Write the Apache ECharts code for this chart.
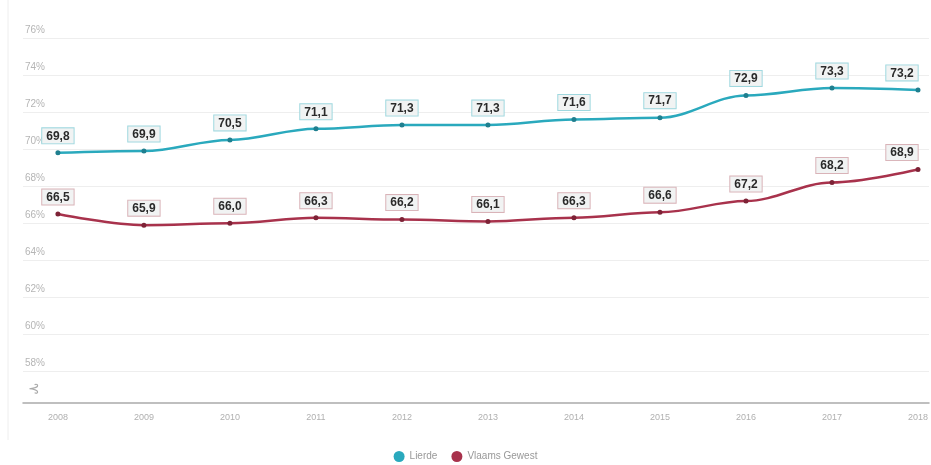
<!DOCTYPE html>
<html>
<head>
<meta charset="utf-8">
<script src="https://cdn.jsdelivr.net/npm/echarts@6/dist/echarts.min.js"></script>
<style>html,body{margin:0;padding:0;background:#fff;}#c{width:931px;height:465px;}</style>
</head>
<body>
<div id="c"></div>
<script>
var years = [2008, 2009, 2010, 2011, 2012, 2013, 2014, 2015, 2016, 2017, 2018];
var lierde = [69.8, 69.9, 70.5, 71.1, 71.3, 71.3, 71.6, 71.7, 72.9, 73.3, 73.2];
var vlaams = [66.5, 65.9, 66.0, 66.3, 66.2, 66.1, 66.3, 66.6, 67.2, 68.2, 68.9];
var yTicks = [58, 60, 62, 64, 66, 68, 70, 72, 74, 76];
var seriesNames = ['Lierde', 'Vlaams Gewest'];
var colors = ['#2aa9bd', '#a8324c'];

function pairs(vals) {
  return years.map(function (y, i) {
    var item = { value: [y, vals[i]] };
    if (i === years.length - 1) item.label = { offset: [-16, 0] };
    return item;
  });
}
function fmt(p) { return p.value[1].toFixed(1).replace('.', ','); }

function lbl(border) {
  return { show: true, position: 'top', distance: 7, formatter: fmt,
    color: '#2a2a2a', fontWeight: 'bold', fontSize: 12, fontFamily: 'Arial',
    backgroundColor: '#f1f3f3', borderColor: border, borderWidth: 1,
    padding: [2, 4, 1, 4] };
}

var chart = echarts.init(document.getElementById('c'));
chart.setOption({
  animation: false,
  grid: { left: 23, right: 0, top: 38, bottom: 62 },
  legend: {
    bottom: -2, left: 'center', itemWidth: 11, itemHeight: 11, itemGap: 14,
    icon: 'circle',
    textStyle: { color: '#999', fontSize: 10, fontFamily: 'Arial' },
    data: [
      { name: seriesNames[0], itemStyle: { color: colors[0] } },
      { name: seriesNames[1], itemStyle: { color: colors[1] } }
    ]
  },
  xAxis: {
    type: 'value', min: 2007.594, max: 2018.128,
    splitLine: { show: false },
    axisLine: { lineStyle: { color: '#aaa', width: 1.5 } },
    axisTick: { show: false, customValues: years },
    axisLabel: { customValues: years, color: '#b0b0b0', fontSize: 9, fontFamily: 'Arial', margin: 10,
      formatter: function (v) { return String(v); } }
  },
  yAxis: {
    type: 'value', min: 56.3, max: 76,
    axisLine: { show: false },
    axisTick: { show: false, customValues: yTicks },
    splitLine: { lineStyle: { color: '#eeeeee', width: 1 } },
    axisLabel: { customValues: yTicks, inside: true, margin: 2, verticalAlign: 'bottom',
      padding: [0, 0, 3, 0], color: '#b5b5b5', fontSize: 10, fontFamily: 'Arial',
      formatter: function (v) { return v + '%'; } }
  },
  series: [
    {
      name: seriesNames[0], type: 'line', data: pairs(lierde),
      smooth: 0.35, smoothMonotone: 'x',
      lineStyle: { width: 2.5, color: colors[0] },
      symbol: 'circle', symbolSize: 5,
      itemStyle: { color: '#1f7f8f' },
      label: lbl('#9fd8df')
    },
    {
      name: seriesNames[1], type: 'line', data: pairs(vlaams),
      smooth: 0.35, smoothMonotone: 'x',
      lineStyle: { width: 2.5, color: colors[1] },
      symbol: 'circle', symbolSize: 5,
      itemStyle: { color: '#7d2236' },
      label: lbl('#d9b3b8')
    }
  ],
  graphic: [
    { type: 'line', shape: { x1: 8, y1: 0, x2: 8, y2: 440 }, style: { stroke: '#eeeeee', lineWidth: 1 } },
    { type: 'text', left: 28, top: 382, style: { text: '⊰', fill: '#aaa', font: '14px DejaVu Sans' } }
  ]
});
</script>
</body>
</html>
